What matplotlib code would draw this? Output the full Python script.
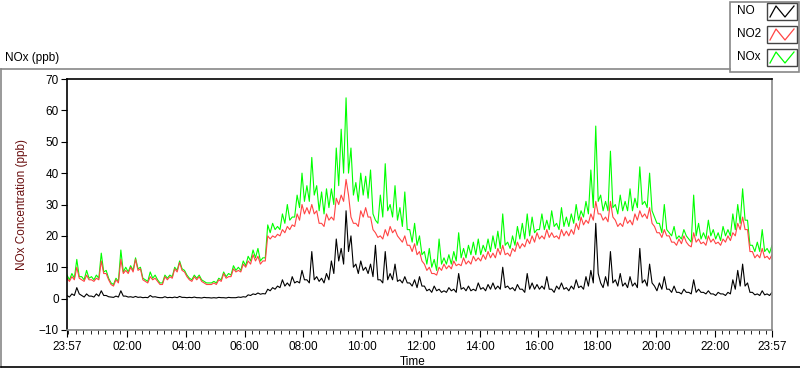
import matplotlib
matplotlib.use("Agg")
import matplotlib.pyplot as plt
from matplotlib.lines import Line2D
from matplotlib.patches import Rectangle

plt.rcParams['font.family'] = ['Liberation Sans', 'DejaVu Sans']

# times in minutes after 23:57; "peak" readings every 10 min (t = 0, 10, ...)
# and "dip" readings half way between them (t = 5, 15, ...)
peak_minutes = list(range(0, 1441, 10))
dip_minutes = list(range(5, 1440, 10))

# NO2 (ppb)
no2_peak = [6.5, 7, 10, 6, 7.5, 6, 6.5,
            12, 8, 4.5, 6, 12.5, 9,
            10, 12.5, 9.5, 5.5, 7, 6.5,
            4.5, 7, 7, 9.5, 11.5, 8.5,
            6, 7, 7, 5, 4.5, 5,
            6, 8, 7, 9.5, 9, 11,
            12, 14, 13.5, 12, 20, 20,
            20.5, 22, 23, 23.5, 27, 30,
            29, 30, 28, 24, 27, 26,
            32, 33, 38, 26, 24, 28,
            29, 26, 21, 20, 22, 23,
            22, 19, 20, 17, 17.5, 15,
            11, 10, 8, 10, 11, 10.5,
            12, 11, 13, 12, 13.5, 13,
            14, 15, 14.5, 16, 17, 14.5,
            16, 18, 17.5, 19, 20, 21,
            20, 22, 21, 20, 22, 21.5,
            22, 24, 26, 25, 27, 31,
            27, 26, 31, 25, 24, 26,
            25, 27, 28, 27, 29, 23,
            21, 22, 20, 18, 19, 20,
            17, 21, 19, 18, 20, 19,
            18, 19, 20, 21, 24, 26,
            22, 15, 14, 16, 13.5, 14]
no2_dip = [5.5, 6, 6.5, 5.5, 6, 5.5, 6,
           8, 6, 4, 5, 8, 8,
           8.5, 9, 6, 5, 6, 5.5,
           4.5, 6, 6.5, 8.5, 9, 7,
           5.5, 6, 5.5, 4.5, 4.5, 4.5,
           5.5, 6.5, 7, 8.5, 8.5, 10,
           11, 12, 11, 12, 19, 19.5,
           20, 21, 22, 23, 25, 27,
           27, 27, 24, 23, 25, 25,
           30, 31, 33, 24, 23, 26,
           26, 22, 19.5, 19, 20, 21,
           20, 18, 17, 15, 14, 12,
           9, 8, 7.5, 9, 9.5, 9.5,
           10.5, 10.5, 11, 11, 12, 12,
           12.5, 13, 13, 14, 14, 13.5,
           15, 16, 16.5, 17.5, 18, 19,
           19, 19.5, 19.5, 19, 20, 20,
           20.5, 22, 23.5, 24, 25, 27,
           25, 24.5, 26, 23, 23, 24,
           23.5, 25, 26, 25.5, 24, 21,
           19.5, 20, 18, 17, 17.5, 18,
           16.5, 18, 17.5, 17, 18, 17.5,
           17, 18, 18.5, 20, 22, 22,
           15, 13, 13, 13, 12.5]

# NOx (ppb)
nox_peak = [7.5, 8, 12.5, 7, 9, 7, 7.5,
            14.5, 9, 5, 6.5, 15.5, 10,
            10.5, 13, 10, 6, 8.5, 7.5,
            5, 7.5, 7.5, 10, 12, 9,
            6.5, 7.5, 7.5, 5.5, 5, 5.5,
            6.5, 8.5, 8, 10.5, 10, 12,
            13.5, 15.5, 16, 13, 23.5, 24,
            23, 27, 30, 26, 33, 40,
            36, 45, 36, 34, 35, 35,
            48, 54, 64, 48, 37, 40,
            39, 41, 25, 33, 43, 30,
            36, 29, 34, 22, 24, 20,
            15, 16, 12.5, 19, 13, 14,
            15, 21, 16, 17, 18, 19,
            17, 19, 20, 21.5, 27, 18,
            20, 23, 24, 27, 26, 22,
            27, 25, 28, 24, 29, 26,
            27, 30, 28, 31, 41, 55,
            33, 31, 47, 30, 33, 31,
            35, 32, 42, 31, 40, 26,
            24, 30, 21, 23, 20, 22,
            19, 33, 24, 21, 25, 22,
            21, 23, 22, 27, 30, 35,
            25, 17, 18, 22, 16, 17]
nox_dip = [6, 6.5, 7, 6, 6.5, 6, 6.5,
           8.5, 6.5, 4.5, 5.5, 8.5, 8.5,
           9, 9.5, 6.5, 5.5, 6.5, 6,
           5, 6.5, 7, 9, 9.5, 7.5,
           6, 6.5, 6, 5, 5, 5,
           6, 7, 7.5, 9, 9, 10.5,
           12, 13, 12, 13, 21, 22,
           22, 24, 25, 26, 29, 31,
           31, 33, 28, 27, 29, 30,
           36, 40, 40, 33, 31, 33,
           32, 27, 24, 26, 28, 26,
           25, 23, 22, 18, 17, 14,
           11, 10, 9, 11, 11, 11,
           12, 13, 13, 14, 14, 14,
           15, 15, 16, 16, 17, 16,
           17, 19, 19, 20, 21, 22,
           22, 22, 23, 22, 23, 23,
           24, 25, 26, 27, 29, 31,
           28, 28, 29, 27, 28, 28,
           28, 29, 30, 29, 28, 24,
           21, 22, 20, 19, 19, 20,
           18, 20, 19, 19, 20, 19,
           18.5, 20, 20, 22, 24, 25,
           17, 15, 15, 15, 14.5]

# NO (ppb)
no_peak = [1, 1.5, 3.5, 1, 1.5, 0.8, 1.5,
           2.5, 1, 0.5, 0.8, 2.5, 0.8,
           0.6, 0.7, 0.5, 0.4, 1, 0.6,
           0.3, 0.6, 0.4, 0.5, 0.7, 0.4,
           0.4, 0.5, 0.3, 0.4, 0.3, 0.3,
           0.4, 0.3, 0.4, 0.3, 0.5, 0.6,
           1.2, 1.5, 1.8, 1.6, 3, 3.5,
           4, 6, 5, 7, 5.5, 9,
           6, 15, 7, 6.5, 8, 12,
           19, 16, 28, 20, 11, 12,
           10, 11, 17, 6, 15, 8,
           11, 6, 7, 5, 6, 7,
           4, 3, 4, 3, 2.5, 3.5,
           3, 8, 3.5, 4, 3, 5,
           3.5, 4.5, 5, 4, 10, 4,
           3.5, 4.5, 3, 8, 5, 4.5,
           4, 7, 3, 4, 5, 3.5,
           4, 6, 4, 7, 9, 24,
           5, 7, 15, 6, 8, 5,
           7, 5, 16, 6, 11, 4,
           5, 7, 3, 4, 2, 3,
           2, 6, 3, 2, 2.5, 1.5,
           2, 1.5, 2, 6, 9, 11,
           5, 2, 1.5, 2.5, 1.5, 2]
no_dip = [0.5, 1, 1.5, 0.5, 0.8, 0.5, 0.8,
          1, 0.6, 0.4, 0.5, 0.8, 0.5,
          0.4, 0.4, 0.3, 0.3, 0.5, 0.4,
          0.3, 0.3, 0.3, 0.3, 0.4, 0.3,
          0.3, 0.3, 0.2, 0.3, 0.2, 0.2,
          0.3, 0.2, 0.3, 0.3, 0.4, 0.5,
          1, 1.3, 1.4, 1.5, 2.5, 3,
          3.5, 4, 4, 5, 5, 6,
          5, 6, 5.5, 5, 6, 8,
          12, 11, 15, 10, 8, 9,
          8, 7, 6, 5, 6, 6,
          5.5, 5, 5, 4, 3.5, 4,
          2.5, 2, 2.5, 2, 2, 2.5,
          2, 3, 2.5, 2.5, 2.5, 3,
          2.5, 3, 3, 3, 3.5, 3,
          2.5, 3, 2, 3, 3, 3,
          3, 3, 2, 3, 3, 2.5,
          3, 3.5, 3, 4, 5, 8,
          3.5, 4, 5, 4, 4, 3.5,
          4, 3.5, 5, 4, 5, 2.5,
          3, 3, 2, 2, 1.5, 2,
          1.5, 2, 2, 1.5, 1.5, 1,
          1.5, 1, 1.5, 3, 4, 4,
          2, 1.2, 1, 1.2, 1]

tick_pos = [0, 123, 243, 363, 483, 603, 723, 843, 963, 1083, 1203, 1323, 1440]
tick_lab = ['23:57', '02:00', '04:00', '06:00', '08:00', '10:00', '12:00',
            '14:00', '16:00', '18:00', '20:00', '22:00', '23:57']
y_ticks = [-10, 0, 10, 20, 30, 40, 50, 60, 70]


def merge(peaks, dips):
    # put the two sets of readings back in time order
    t, v = [], []
    for i, p in enumerate(peaks):
        t.append(peak_minutes[i])
        v.append(p)
        if i < len(dips):
            t.append(dip_minutes[i])
            v.append(dips[i])
    return t, v


W, H = 800, 369
fig = plt.figure(figsize=(8, 3.69), dpi=100)
ax = fig.add_axes([67 / W, 1 - 330 / H, (772 - 67) / W, (330 - 79) / H])

for peaks, dips, c in [(nox_peak, nox_dip, '#00ff00'),
                       (no2_peak, no2_dip, '#ff4444'),
                       (no_peak, no_dip, 'black')]:
    t, v = merge(peaks, dips)
    ax.plot(t, v, color=c, lw=0.8)

ax.set_xlim(0, 1440)
ax.set_ylim(-10, 70)
ax.set_yticks(y_ticks)
ax.set_xticks(tick_pos)
ax.set_xticklabels(tick_lab)
ax.set_xticks([m for m in range(3, 1440, 15)], minor=True)
ax.tick_params(axis='both', labelsize=8.5, direction='out', width=0.8, colors='black')
ax.tick_params(axis='x', which='major', length=5, pad=3)
ax.tick_params(axis='x', which='minor', length=3)
ax.tick_params(axis='y', length=4, pad=2)

for s in ['left', 'top']:
    ax.spines[s].set_color('black')
    ax.spines[s].set_linewidth(1.2)
for s in ['right', 'bottom']:
    ax.spines[s].set_color('#888888')
    ax.spines[s].set_linewidth(1.2)

ax.set_xlabel('Time', fontsize=8.5, labelpad=2)
ax.xaxis.set_label_coords((413 - 67) / (772 - 67), -0.105)
ax.set_ylabel('NOx Concentration (ppb)', fontsize=8.5, color='#6a1010')
ax.yaxis.set_label_coords(-0.055, 0.5)

# outer panel frame and title
fig.add_artist(Line2D([1 / W, 730 / W], [1 - 69 / H, 1 - 69 / H], color='#888888', lw=1.2))
fig.add_artist(Line2D([1 / W, 1 / W], [1 - 69 / H, 1 - 367 / H], color='#888888', lw=1.2))
fig.add_artist(Line2D([1 / W, 1.0], [1 - 367 / H, 1 - 367 / H], color='black', lw=1.2))
fig.text(5 / W, 1 - 58 / H, 'NOx (ppb)', fontsize=8.5, va='center', ha='left')

# legend panel
fig.add_artist(Rectangle((730 / W, 1 - 72 / H), 69 / W, 70 / H, fill=False,
                         edgecolor='#888888', lw=1.2))
names = ['NO', 'NO2', 'NOx']
cols = ['black', '#ff4444', '#00ff00']
for k, (nm, c) in enumerate(zip(names, cols)):
    top = 3 + 23 * k
    fig.text(737 / W, 1 - (top + 8) / H, nm, fontsize=8.5, va='center', ha='left')
    fig.add_artist(Rectangle((767 / W, 1 - (top + 17) / H), 30 / W, 17 / H, fill=False,
                             edgecolor='#444444', lw=1.0))
    xs = [770, 776, 785, 794]
    ys = [top + 14, top + 3, top + 14, top + 3]
    fig.add_artist(Line2D([x / W for x in xs], [1 - y / H for y in ys], color=c, lw=0.9))

fig.savefig('out.png', dpi=100)
